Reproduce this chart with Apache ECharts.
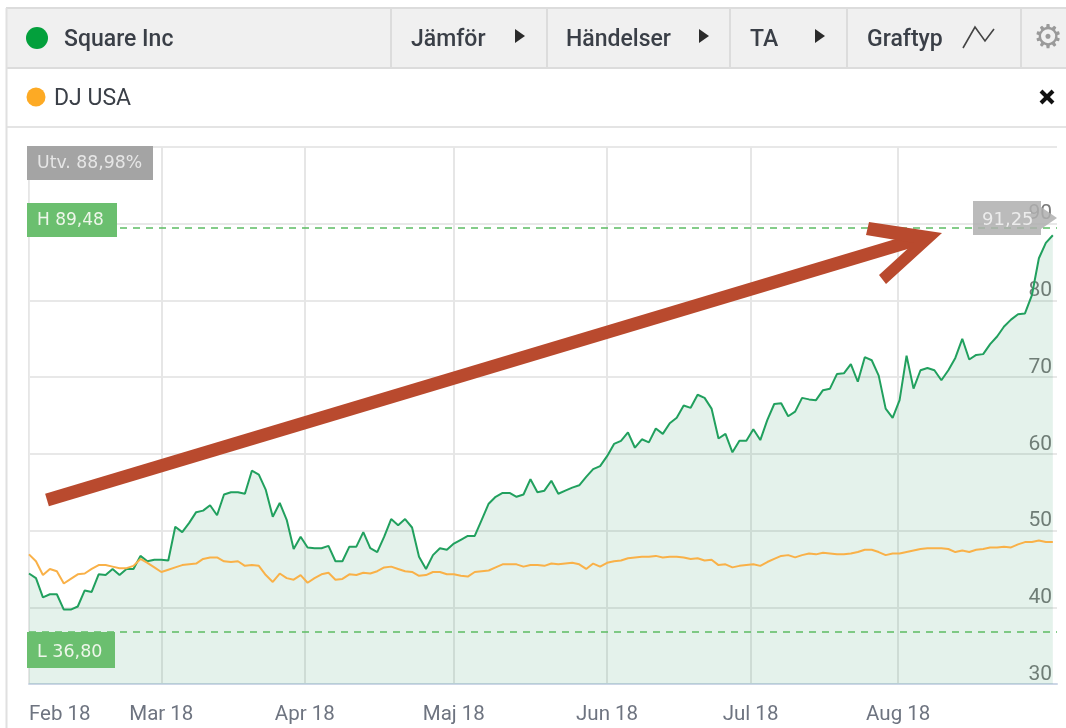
<!DOCTYPE html>
<html>
<head>
<meta charset="utf-8">
<style>html,body{margin:0;padding:0;background:#fff}#c{width:1066px;height:728px}</style>
<script src="https://cdn.jsdelivr.net/npm/echarts@6/dist/echarts.min.js"></script>
</head>
<body>
<div id="c"></div>
<script>
const squareValues = [
44.4,43.8,41.3,41.7,41.7,39.7,39.7,40.1,42.2,42.0,
44.3,44.2,45.0,44.2,45.0,45.0,46.7,46.0,46.2,46.2,
46.1,50.5,49.8,51.0,52.4,52.6,53.3,52.0,54.7,55.0,
55.0,54.8,57.8,57.3,55.3,51.8,53.6,51.4,47.6,49.2,
47.8,47.7,47.7,48.0,46.0,46.0,47.9,47.9,49.8,47.7,
47.2,49.2,51.5,50.7,51.5,50.4,46.6,45.0,46.8,47.7,
47.5,48.3,48.8,49.3,49.3,51.4,53.5,54.4,54.9,54.9,
54.4,54.7,56.7,55.0,55.2,56.5,54.8,55.2,55.6,55.9,
57.0,58.0,58.4,59.7,61.3,61.7,62.8,60.8,61.9,61.5,
63.3,62.6,64.0,64.7,66.3,66.0,67.7,67.3,65.9,62.0,
62.6,60.2,61.7,61.7,63.2,61.8,64.4,66.5,66.6,64.9,
65.5,67.3,67.1,67.0,68.3,68.5,70.4,70.5,71.7,69.4,
72.6,72.2,70.2,65.9,64.7,67.0,72.8,68.5,70.9,71.2,
70.9,69.6,70.9,72.5,75.0,72.3,72.9,73.0,74.3,75.3,
76.6,77.5,78.2,78.3,80.7,85.5,87.5,88.5];
const djUsaValues = [
46.9,46.0,44.2,45.0,44.7,43.1,43.7,44.3,44.4,45.0,
45.5,45.5,45.3,45.1,45.1,45.4,46.3,45.8,45.2,44.6,
44.9,45.2,45.5,45.6,45.7,46.3,46.5,46.5,46.0,45.9,
46.0,45.4,45.5,45.4,44.2,43.3,44.4,43.8,43.6,44.2,
43.2,43.8,44.3,44.5,43.6,43.7,44.3,44.2,44.5,44.4,
44.7,45.2,45.3,45.0,44.7,44.6,44.1,44.2,44.6,44.6,
44.3,44.3,44.1,44.0,44.6,44.7,44.8,45.2,45.6,45.6,
45.6,45.3,45.5,45.5,45.4,45.7,45.6,45.7,45.8,45.6,
45.0,45.7,45.3,45.8,46.0,46.1,46.4,46.5,46.6,46.6,
46.7,46.5,46.6,46.6,46.5,46.3,46.4,46.1,46.2,45.5,
45.6,45.2,45.4,45.5,45.6,45.4,45.9,46.3,46.7,46.8,
46.5,46.8,47.0,46.9,47.1,47.0,46.9,46.9,47.0,47.2,
47.5,47.5,47.2,46.8,47.0,47.0,47.2,47.4,47.6,47.7,
47.7,47.7,47.6,47.2,47.4,47.2,47.5,47.6,47.8,47.8,
47.9,47.8,48.2,48.5,48.5,48.7,48.5,48.5];
const monthLabels = ['Feb 18','Mar 18','Apr 18','Maj 18','Jun 18','Jul 18','Aug 18'];
const monthSessions = [0,19,39.6,61,83,103.6,124.8];
const yTicks = [30,40,50,60,70,80,90];
const highValue = 89.48;
const lowValue = 36.80;
const highLabel = 'H 89,48';
const lowLabel = 'L 36,80';
const changeLabel = 'Utv. 88,98%';
const lastLabel = '91,25';
const menuItems = ['Jämför','Händelser','TA','Graftyp'];

const F = 'Roboto, sans-serif';
const B = '"DejaVu Sans", sans-serif';
const pairs = a => a.map((v,i)=>[i,v]);
const txt = (x,y,text,size,fill,weight,align,fam) => ({type:'text',z:50,style:{x,y,text,fontFamily:fam||F,fontSize:size,fontWeight:weight||400,fill,align:align||'left',verticalAlign:'middle'}});
const rect = (x,y,w,h,fill,stroke) => ({type:'rect',z:40,shape:{x,y,width:w,height:h},style:{fill,stroke:stroke||null,lineWidth:stroke?1:0}});
const vline = (x,y1,y2,c,w) => ({type:'line',z:41,shape:{x1:x,y1:y1,x2:x,y2:y2},style:{stroke:c,lineWidth:w||2}});
const hline = (x1,x2,y,c,w) => ({type:'line',z:41,shape:{x1:x1,y1:y,x2:x2,y2:y},style:{stroke:c,lineWidth:w||2}});
const tri = x => ({type:'polygon',z:50,shape:{points:[[x,29],[x+10,36],[x,43]]},style:{fill:'#2b2b2b'}});

const graphics = [
  rect(6,8,1060,60,'#f0f0f0'),
  hline(6,1066,8,'#dcdcdc'), hline(6,1066,68,'#dcdcdc'), hline(6,1066,127,'#e4e4e4'),
  vline(6.5,8,728,'#e0e0e0'),
  vline(391,8,68,'#dcdcdc'), vline(547,8,68,'#dcdcdc'), vline(730,8,68,'#dcdcdc'), vline(847,8,68,'#dcdcdc'), vline(1021,8,68,'#dcdcdc'),
  {type:'circle',z:50,shape:{cx:37,cy:38,r:11},style:{fill:'#03a03c'}},
  {type:'circle',z:50,shape:{cx:36,cy:97,r:9.5},style:{fill:'#fdaa24'}},
  txt(64,40,'Square Inc',23,'#3a3f47',500),
  txt(54,99,'DJ USA',23,'#3a3f47',400),
  txt(411,40,menuItems[0],23,'#3a3f47',500), tri(515),
  txt(566,40,menuItems[1],23,'#3a3f47',500), tri(699),
  txt(750,40,menuItems[2],23,'#3a3f47',500), tri(815),
  txt(867,40,menuItems[3],23,'#3a3f47',500),
  {type:'polyline',z:50,shape:{points:[[963,48],[975,27],[985,41],[994,29]]},style:{stroke:'#444',lineWidth:1.6,fill:null}},
  {type:'text',z:50,style:{x:1048,y:39,text:'⚙',fontFamily:'DejaVu Sans',fontSize:33,fontWeight:700,fill:'#9a9a9a',align:'center',verticalAlign:'middle'}},
  {type:'line',z:50,shape:{x1:1041,y1:91,x2:1053,y2:103},style:{stroke:'#111',lineWidth:4}},
  {type:'line',z:50,shape:{x1:1053,y1:91,x2:1041,y2:103},style:{stroke:'#111',lineWidth:4}},
  rect(27,146,126,34,'#a4a4a4'),
  txt(37,164,changeLabel,17.3,'#e6e6e6',400,'left',B),
  rect(27,203,90,34,'#6bbf6f'),
  txt(37,221,highLabel,17,'#eef6ea',400,'left',B),
  rect(27,632,88,36,'#6bbf6f'),
  txt(37,652,lowLabel,17.5,'#eef6ea',400,'left',B),
  {type:'polygon',z:45,shape:{points:[[973,201],[1041,201],[1041,207],[1057,218],[1041,229],[1041,235],[973,235]]},style:{fill:'rgba(175,175,175,0.85)'}},
  txt(982,220,lastLabel,18,'#ececec',400,'left',B),
  {type:'line',z:46,shape:{x1:47,y1:500,x2:915,y2:240},style:{stroke:'#b94a2e',lineWidth:13}},
  {type:'polygon',z:46,shape:{points:[[869,222],[942,233],[886,284],[879,275],[914,243],[866,235]]},style:{fill:'#b94a2e'}}
];

const chart = echarts.init(document.getElementById('c'),null,{renderer:'canvas'});
chart.setOption({
  animation:false,
  backgroundColor:'#fff',
  grid:{left:29,right:9,top:147,bottom:44},
  graphic:graphics,
  xAxis:{
    type:'value',min:0,max:147.6,
    axisLine:{show:true,lineStyle:{color:'#ccd6e6',width:2}},
    axisTick:{show:false,customValues:monthSessions},
    splitLine:{show:true,lineStyle:{color:'#e6e6e6',width:2}},
    axisLabel:{
      customValues:monthSessions,
      alignMinLabel:'left',
      showMinLabel:true,
      margin:20,
      fontFamily:F,fontSize:20.5,color:'#6e7480',
      formatter:v=>monthLabels[monthSessions.indexOf(v)]
    }
  },
  yAxis:{
    type:'value',position:'right',min:30,max:100,interval:10,
    axisLine:{show:true,lineStyle:{color:'#eaeaea',width:1}},
    axisTick:{show:false},
    splitLine:{show:true,lineStyle:{color:'#e8e8e8',width:2}},
    axisLabel:{
      inside:true,margin:5,fontFamily:F,fontSize:21,color:'#7a7a7a',
      verticalAlign:'bottom',lineHeight:19,
      formatter:v=>yTicks.includes(v)?String(v):''
    }
  },
  series:[
    {type:'line',name:'Square Inc',data:pairs(squareValues),showSymbol:false,z:3,
     lineStyle:{color:'#21a05e',width:2},
     areaStyle:{color:'rgba(30,147,88,0.12)',opacity:1,origin:'start'},
     markLine:{silent:true,symbol:'none',label:{show:false},
       lineStyle:{color:'#5cbc63',type:[7,6],width:1.5},
       data:[{yAxis:highValue},{yAxis:lowValue}]}
    },
    {type:'line',name:'DJ USA',data:pairs(djUsaValues),showSymbol:false,z:4,
     lineStyle:{color:'#f9b148',width:2}}
  ]
});
</script>
</body>
</html>
